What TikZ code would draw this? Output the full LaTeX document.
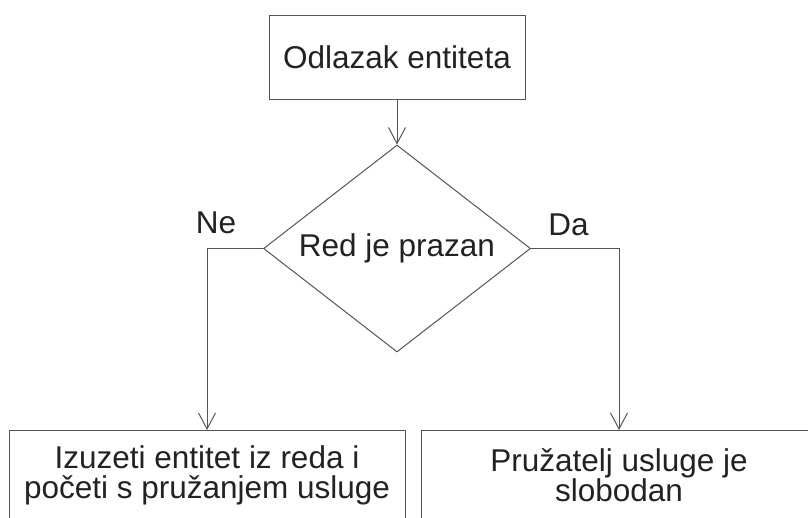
\documentclass[tikz,border=0pt]{standalone}
\usepackage{fontspec}
\setmainfont{Liberation Sans}
\usetikzlibrary{shapes.geometric,arrows.meta}
\definecolor{line_grey}{HTML}{555555}
\definecolor{text_dark}{HTML}{222222}

\begin{document}
\begin{tikzpicture}[x=1pt, y=-1pt, line width=1pt,
	every node/.style={font=\fontsize{31.5}{30}\selectfont, text=text_dark},
	box/.style={draw=line_grey, rectangle, inner sep=0pt, align=center},
	arrow/.style={draw=line_grey, -{Straight Barb[length=16pt, width=17pt]}}]
	\useasboundingbox (0,0) rectangle (808,517);
	\clip (0,0) rectangle (808,517);
	\node[box, minimum width=256pt, minimum height=84pt] (start) at (397,57) {Odlazak entiteta};
	\node[draw=line_grey, diamond, aspect=1.29, minimum width=267pt, minimum height=207pt, inner sep=0pt] (empty) at (397,248.5) {Red je prazan};
	\node[box, anchor=north, minimum width=396pt, minimum height=90pt] (busy) at (207,430) {Izuzeti entitet iz reda i\\početi s pružanjem usluge};
	\node[box, anchor=north, minimum width=396pt, minimum height=90pt] (free) at (619,430) {Pružatelj usluge je\\slobodan};
	\draw[arrow] (start) -- (empty);
	\draw[arrow] (empty.west) -| (busy.north);
	\draw[arrow] (empty.east) -| (free.north);
	\node[anchor=base] (no) at (216,233) {Ne};
	\node[anchor=base] (yes) at (568.5,235) {Da};
\end{tikzpicture}
\end{document}
